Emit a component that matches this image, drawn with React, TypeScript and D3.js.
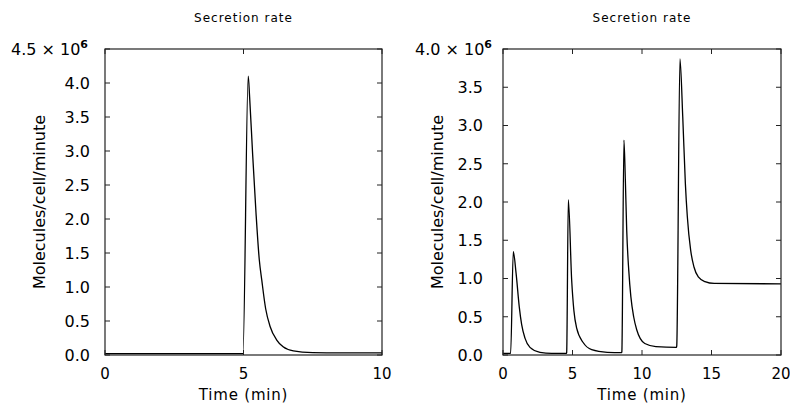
import React, { useEffect, useRef } from 'react';
import * as d3 from 'd3';

// values in units of 10^6 molecules/cell/minute
const leftTime = [0, 4.98, 5.17, 5.22, 5.33, 5.45, 5.57, 5.66, 5.8, 5.96, 6.2, 6.43, 6.8, 7.5, 8.5, 10.0];
const leftRate = [0.02, 0.02, 4.1, 3.8, 2.95, 2.1, 1.4, 1.1, 0.68, 0.42, 0.22, 0.12, 0.06, 0.035, 0.03, 0.03];

const rightTime = [
  0, 0.55, 0.74, 0.94, 1.17, 1.34, 1.58, 1.94, 2.66, 3.5, 4.56,
  4.58, 4.7, 4.94, 5.1, 5.3, 5.78, 6.38, 7.5, 8.53,
  8.55, 8.7, 8.8, 8.9, 9.05, 9.2, 9.4, 9.62, 10.2, 11.0, 12.48,
  12.5, 12.73, 12.93, 13.12, 13.26, 13.5, 13.74, 14.05, 14.53, 15.2, 20
];
const rightRate = [
  0.02, 0.02, 1.35, 1.07, 0.63, 0.4, 0.22, 0.1, 0.035, 0.02, 0.02,
  0.03, 2.03, 0.98, 0.58, 0.35, 0.16, 0.07, 0.035, 0.03,
  0.04, 2.81, 2.3, 1.63, 1.1, 0.76, 0.5, 0.33, 0.15, 0.11, 0.1,
  0.12, 3.87, 3.12, 2.24, 1.81, 1.37, 1.15, 1.02, 0.96, 0.935, 0.93
];

const leftXTicks = [0, 5, 10];
const leftYTicks = [0, 0.5, 1.0, 1.5, 2.0, 2.5, 3.0, 3.5, 4.0];
const rightXTicks = [0, 5, 10, 15, 20];
const rightYTicks = [0, 0.5, 1.0, 1.5, 2.0, 2.5, 3.0, 3.5];

const FONT = 'DejaVu Sans, sans-serif';

type Panel = {
  left: number; right: number; top: number; bottom: number;
  xMax: number; yMax: number; time: number[]; rate: number[];
  xTicks: number[]; yTicks: number[]; topLabel: string; labelGap: number; topEnd: number; yLabelX: number;
};

const panels: Panel[] = [
  { left: 105, right: 382, top: 49, bottom: 355, xMax: 10, yMax: 4.5, time: leftTime, rate: leftRate,
    xTicks: leftXTicks, yTicks: leftYTicks, topLabel: '4.5', labelGap: 15, topEnd: 88, yLabelX: 45 },
  { left: 503, right: 781, top: 49, bottom: 355, xMax: 20, yMax: 4.0, time: rightTime, rate: rightRate,
    xTicks: rightXTicks, yTicks: rightYTicks, topLabel: '4.0', labelGap: 20, topEnd: 492, yLabelX: 443 }
];

const App = () => {
  const ref = useRef<SVGSVGElement>(null);

  useEffect(() => {
    if (!ref.current) return;
    const svg = d3.select(ref.current);
    svg.selectAll('*').remove();

    panels.forEach(p => {
      const x = d3.scaleLinear().domain([0, p.xMax]).range([p.left, p.right]);
      const y = d3.scaleLinear().domain([0, p.yMax]).range([p.bottom, p.top]);
      const g = svg.append('g');
      const tl = 5;

      // curve
      const pts = p.time.map((t, i) => [t, p.rate[i]] as [number, number]);
      const line = d3.line<[number, number]>()
        .x(d => x(d[0]))
        .y(d => y(d[1]))
        .curve(d3.curveMonotoneX);
      g.append('path')
        .datum(pts)
        .attr('fill', 'none')
        .attr('stroke', '#000')
        .attr('stroke-width', 1.3)
        .attr('stroke-linejoin', 'round')
        .attr('d', line);

      // frame
      g.append('rect')
        .attr('x', p.left).attr('y', p.top)
        .attr('width', p.right - p.left).attr('height', p.bottom - p.top)
        .attr('fill', 'none').attr('stroke', '#222').attr('stroke-width', 1.2);

      // inward ticks
      p.xTicks.forEach(t => {
        g.append('line').attr('x1', x(t)).attr('x2', x(t)).attr('y1', p.bottom).attr('y2', p.bottom - tl)
          .attr('stroke', '#222');
        g.append('line').attr('x1', x(t)).attr('x2', x(t)).attr('y1', p.top).attr('y2', p.top + tl)
          .attr('stroke', '#222');
        g.append('text').attr('x', x(t)).attr('y', 379)
          .attr('text-anchor', 'middle').attr('font-family', FONT).attr('font-size', 15)
          .text(d3.format('d')(t));
      });
      [...p.yTicks, p.yMax].forEach(v => {
        g.append('line').attr('x1', p.left).attr('x2', p.left + tl).attr('y1', y(v)).attr('y2', y(v))
          .attr('stroke', '#222');
        g.append('line').attr('x1', p.right).attr('x2', p.right - tl).attr('y1', y(v)).attr('y2', y(v))
          .attr('stroke', '#222');
      });
      p.yTicks.forEach(v => {
        g.append('text').attr('x', p.left - p.labelGap).attr('y', y(v)).attr('dy', '0.36em')
          .attr('text-anchor', 'end').attr('font-family', FONT).attr('font-size', 16)
          .text(d3.format('.1f')(v));
      });

      // top label with exponent
      const top = g.append('text').attr('x', p.topEnd).attr('y', y(p.yMax)).attr('dy', '0.36em')
        .attr('text-anchor', 'end').attr('font-family', FONT).attr('font-size', 16);
      top.append('tspan').text(`${p.topLabel} \u00d7 10`);
      top.append('tspan').attr('font-size', 11).attr('font-weight', 'bold').attr('dy', -7).text('6');

      // titles
      g.append('text').attr('x', (p.left + p.right) / 2).attr('y', 22)
        .attr('text-anchor', 'middle').attr('font-family', FONT).attr('font-size', 12)
        .attr('letter-spacing', 1)
        .text('Secretion rate');
      g.append('text').attr('x', (p.left + p.right) / 2).attr('y', 400)
        .attr('text-anchor', 'middle').attr('font-family', FONT).attr('font-size', 15)
        .attr('letter-spacing', 0.8)
        .text('Time (min)');
      g.append('text')
        .attr('transform', `translate(${p.yLabelX},${(p.top + p.bottom) / 2}) rotate(-90)`)
        .attr('text-anchor', 'middle').attr('font-family', FONT).attr('font-size', 16)
        .text('Molecules/cell/minute');
    });
  }, []);

  return (
    <svg
      ref={ref}
      width={790}
      height={405}
      style={{ position: 'absolute', left: 0, top: 0, background: '#fff' }}
    />
  );
};

export default App;
